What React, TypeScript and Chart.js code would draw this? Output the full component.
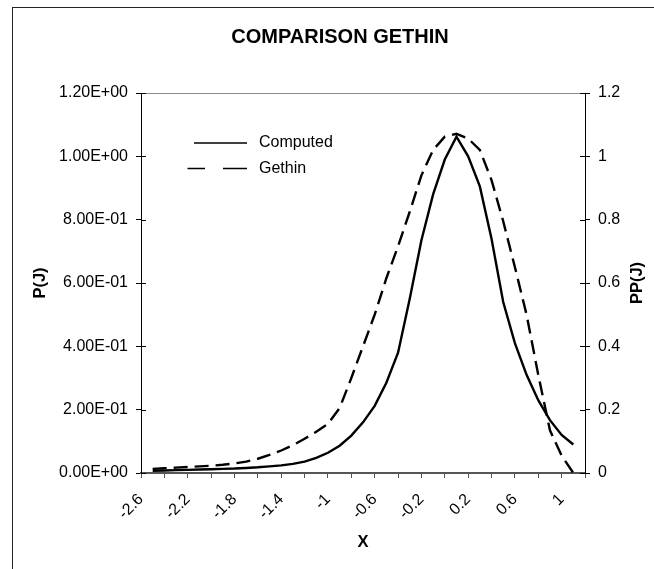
import React, { useEffect, useRef } from 'react';
import { Chart, registerables } from 'chart.js';

Chart.register(...registerables);

// Abscissa of each sample
const xValues = [
  -2.5, -2.4, -2.3, -2.2, -2.1, -2.0, -1.9, -1.8, -1.7, -1.6,
  -1.5, -1.4, -1.3, -1.2, -1.1, -1.0, -0.9, -0.8, -0.7, -0.6,
  -0.5, -0.4, -0.3, -0.2, -0.1, 0.0, 0.1, 0.2, 0.3, 0.4,
  0.5, 0.6, 0.7, 0.8, 0.9, 1.0, 1.1,
];

// P(J) – computed distribution
const computedP = [
  0.007, 0.008, 0.009, 0.010, 0.011, 0.012, 0.013, 0.014, 0.016, 0.018,
  0.021, 0.024, 0.029, 0.036, 0.048, 0.064, 0.086, 0.118, 0.160, 0.212,
  0.285, 0.380, 0.550, 0.735, 0.880, 0.990, 1.062, 1.000, 0.905, 0.740,
  0.540, 0.410, 0.310, 0.230, 0.167, 0.120, 0.090,
];

// PP(J) – Gethin reference distribution
const gethinPP = [
  0.013, 0.015, 0.017, 0.019, 0.021, 0.023, 0.026, 0.030, 0.036, 0.045,
  0.057, 0.071, 0.088, 0.108, 0.130, 0.155, 0.205, 0.300, 0.400, 0.500,
  0.615, 0.716, 0.825, 0.940, 1.020, 1.062, 1.071, 1.056, 1.020, 0.925,
  0.795, 0.650, 0.500, 0.310, 0.135, 0.055, 0.000,
];

const xTickLabels = [
  '-2.6', '', '-2.2', '', '-1.8', '', '-1.4', '', '-1', '',
  '-0.6', '', '-0.2', '', '0.2', '', '0.6', '', '1', '',
];
const leftTickLabels = ['0.00E+00', '2.00E-01', '4.00E-01', '6.00E-01', '8.00E-01', '1.00E+00', '1.20E+00'];
const rightTickLabels = ['0', '0.2', '0.4', '0.6', '0.8', '1', '1.2'];

const seriesNames = ['Computed', 'Gethin'];
const chartTitle = 'COMPARISON GETHIN';
const xTitle = 'X';
const leftTitle = 'P(J)';
const rightTitle = 'PP(J)';

const FONT = '"Liberation Sans", Arial, Helvetica, sans-serif';
const W = 654;
const H = 569;

// Title, axis titles, legend, plot frame and inner tick marks
const decorations = {
  id: 'decorations',
  afterDraw(chart: any) {
    const { ctx, chartArea: a, scales } = chart;
    ctx.save();

    // light frame line along the top of the plot
    ctx.strokeStyle = '#8a8a8a';
    ctx.lineWidth = 1;
    ctx.beginPath();
    ctx.moveTo(a.left, Math.round(a.top) + 0.5);
    ctx.lineTo(a.right, Math.round(a.top) + 0.5);
    ctx.stroke();

    // tick marks crossing into the plot on both value axes
    ctx.strokeStyle = '#000';
    ctx.lineWidth = 1;
    for (const t of scales.y.ticks) {
      const py = Math.round(scales.y.getPixelForValue(t.value)) + 0.5;
      ctx.beginPath();
      ctx.moveTo(a.left, py);
      ctx.lineTo(a.left + 5, py);
      ctx.stroke();
    }
    for (const t of scales.y1.ticks) {
      const py = Math.round(scales.y1.getPixelForValue(t.value)) + 0.5;
      ctx.beginPath();
      ctx.moveTo(a.right - 5, py);
      ctx.lineTo(a.right, py);
      ctx.stroke();
    }

    ctx.fillStyle = '#000';
    ctx.textAlign = 'center';
    ctx.textBaseline = 'middle';

    // chart title
    ctx.font = `bold 20px ${FONT}`;
    ctx.fillText(chartTitle, 340, 37);

    // axis titles
    ctx.font = `bold 16.5px ${FONT}`;
    ctx.fillText(xTitle, (a.left + a.right) / 2, 542);
    const midY = (a.top + a.bottom) / 2;
    ctx.save();
    ctx.translate(40, midY);
    ctx.rotate(-Math.PI / 2);
    ctx.fillText(leftTitle, 0, 0);
    ctx.restore();
    ctx.save();
    ctx.translate(637.5, midY);
    ctx.rotate(-Math.PI / 2);
    ctx.fillText(rightTitle, 0, 0);
    ctx.restore();

    // legend
    const lx = a.left;
    const ly = a.top;
    ctx.lineWidth = 1.3;
    ctx.beginPath();
    ctx.moveTo(lx + 53, ly + 50);
    ctx.lineTo(lx + 106, ly + 50);
    ctx.stroke();
    ctx.beginPath();
    ctx.moveTo(lx + 46.5, ly + 75.5);
    ctx.lineTo(lx + 64, ly + 75.5);
    ctx.moveTo(lx + 82, ly + 75.5);
    ctx.lineTo(lx + 106, ly + 75.5);
    ctx.stroke();
    ctx.font = `16px ${FONT}`;
    ctx.textAlign = 'left';
    ctx.fillText(seriesNames[0], lx + 118, ly + 50);
    ctx.fillText(seriesNames[1], lx + 118, ly + 75.5);

    ctx.restore();
  },
};

export default function App() {
  const canvasRef = useRef<HTMLCanvasElement | null>(null);

  useEffect(() => {
    const canvas = canvasRef.current;
    if (!canvas) return;

    const chart = new Chart(canvas, {
      type: 'line',
      data: {
        datasets: [
          {
            label: seriesNames[0],
            data: xValues.map((x, i) => ({ x, y: computedP[i] })),
            borderColor: '#000',
            borderWidth: 2.4,
            pointRadius: 0,
            tension: 0,
            fill: false,
            yAxisID: 'y',
          },
          {
            label: seriesNames[1],
            data: xValues.map((x, i) => ({ x, y: gethinPP[i] })),
            borderColor: '#000',
            borderWidth: 2.4,
            borderDash: [14, 7],
            pointRadius: 0,
            tension: 0,
            fill: false,
            yAxisID: 'y1',
          },
        ],
      },
      options: {
        animation: false,
        responsive: false,
        devicePixelRatio: 1,
        layout: { padding: { top: 93, left: 0, right: 0, bottom: 0 } },
        plugins: {
          legend: { display: false },
          title: { display: false },
          tooltip: { enabled: false },
        },
        scales: {
          x: {
            type: 'linear',
            position: 'bottom',
            min: -2.6,
            max: 1.2,
            ticks: {
              stepSize: 0.2,
              autoSkip: false,
              minRotation: 45,
              maxRotation: 45,
              padding: 12,
              color: '#000',
              font: { family: FONT, size: 16 },
              callback: (_v: any, i: number) => xTickLabels[i] ?? '',
            },
            grid: { drawOnChartArea: false, drawTicks: true, tickLength: 5, color: '#555' },
            border: { color: '#555', width: 2 },
            afterFit: (s: any) => { s.height = 96; },
          },
          y: {
            type: 'linear',
            position: 'left',
            min: 0,
            max: 1.2,
            ticks: {
              stepSize: 0.2,
              padding: 8,
              color: '#000',
              font: { family: FONT, size: 16 },
              callback: (_v: any, i: number) => leftTickLabels[i] ?? '',
            },
            grid: { drawOnChartArea: false, drawTicks: true, tickLength: 5, color: '#000' },
            border: { color: '#000', width: 1 },
            afterFit: (s: any) => { s.width = 141; },
          },
          y1: {
            type: 'linear',
            position: 'right',
            min: 0,
            max: 1.2,
            ticks: {
              stepSize: 0.2,
              padding: 8,
              color: '#000',
              font: { family: FONT, size: 16 },
              callback: (_v: any, i: number) => rightTickLabels[i] ?? '',
            },
            grid: { drawOnChartArea: false, drawTicks: true, tickLength: 5, color: '#000' },
            border: { color: '#000', width: 1 },
            afterFit: (s: any) => { s.width = 69; },
          },
        },
      },
      plugins: [decorations],
    });

    return () => chart.destroy();
  }, []);

  return (
    <div style={{ position: 'fixed', left: 0, top: 0, width: W, height: H, overflow: 'hidden', background: '#fff' }}>
      <div
        style={{
          position: 'absolute',
          left: 12,
          top: 7,
          width: W,
          height: H,
          borderLeft: '1px solid #222',
          borderTop: '1px solid #222',
          boxSizing: 'border-box',
        }}
      />
      <canvas ref={canvasRef} width={W} height={H} style={{ position: 'absolute', left: 0, top: 0 }} />
    </div>
  );
}
